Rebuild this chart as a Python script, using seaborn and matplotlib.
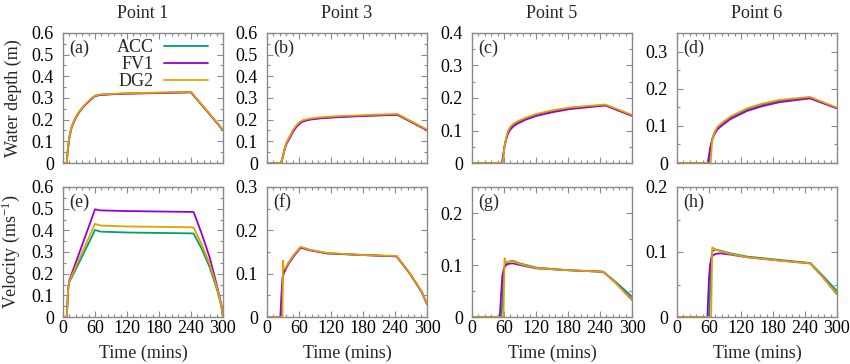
import numpy as np
import pandas as pd
import matplotlib
matplotlib.use('Agg')
import matplotlib.pyplot as plt
import seaborn as sns
from matplotlib.ticker import MultipleLocator, FuncFormatter

# ---- data (time in mins) ----
models = ['ACC', 'FV1', 'DG2']
colors = ['#009e73', '#9400d3', '#e69f00']
points = ['Point 1', 'Point 3', 'Point 5', 'Point 6']

# water depth, point 1
t_a = [0, 7, 9, 12, 16, 20, 25, 30, 38, 45, 52, 60, 70, 90, 120, 180, 240, 270, 300]
acc_a = [0, 0, 0.06, 0.12, 0.165, 0.19, 0.215, 0.235, 0.26, 0.278, 0.294, 0.31, 0.315, 0.318, 0.321, 0.324, 0.327, 0.24, 0.152]
fv1_a = [0, 0, 0.058, 0.118, 0.163, 0.188, 0.213, 0.233, 0.258, 0.276, 0.292, 0.309, 0.314, 0.317, 0.320, 0.323, 0.326, 0.239, 0.152]
dg2_a = [0, 0, 0.061, 0.121, 0.166, 0.191, 0.216, 0.236, 0.261, 0.279, 0.295, 0.311, 0.316, 0.319, 0.322, 0.325, 0.328, 0.241, 0.153]

# water depth, point 3
t_b = [0, 27, 30, 34, 38, 43, 49, 56, 62, 68, 80, 100, 130, 180, 240, 245, 300]
acc_b = [0, 0, 0.035, 0.075, 0.1, 0.122, 0.15, 0.174, 0.187, 0.195, 0.202, 0.208, 0.213, 0.218, 0.223, 0.223, 0.152]
fv1_b = [0, 0, 0.032, 0.07, 0.095, 0.117, 0.145, 0.169, 0.183, 0.192, 0.2, 0.206, 0.211, 0.217, 0.222, 0.222, 0.151]
dg2_b = [0, 0, 0.03, 0.075, 0.102, 0.125, 0.153, 0.177, 0.19, 0.198, 0.205, 0.211, 0.216, 0.221, 0.226, 0.226, 0.154]

# water depth, point 5
t_c = [0, 56, 57, 59, 61, 64, 67, 71, 77, 84, 100, 121, 150, 184, 220, 250, 300]
acc_c = [0, 0, 0, 0.025, 0.05, 0.075, 0.092, 0.106, 0.116, 0.123, 0.136, 0.148, 0.159, 0.169, 0.174, 0.178, 0.146]
fv1_c = [0, 0, 0.01, 0.03, 0.052, 0.073, 0.088, 0.101, 0.112, 0.12, 0.133, 0.145, 0.156, 0.166, 0.172, 0.177, 0.145]
dg2_c = [0, 0, 0, 0.02, 0.05, 0.078, 0.096, 0.11, 0.12, 0.127, 0.139, 0.151, 0.162, 0.171, 0.176, 0.18, 0.148]

# water depth, point 6
t_d = [0, 58, 59, 61, 63, 66, 70, 75, 80, 87, 100, 131, 160, 193, 249, 300]
acc_d = [0, 0, 0, 0.02, 0.042, 0.065, 0.08, 0.093, 0.1, 0.108, 0.122, 0.144, 0.157, 0.167, 0.176, 0.148]
fv1_d = [0, 0, 0.012, 0.03, 0.045, 0.063, 0.077, 0.089, 0.096, 0.104, 0.118, 0.14, 0.153, 0.164, 0.174, 0.147]
dg2_d = [0, 0, 0, 0, 0, 0.06, 0.082, 0.096, 0.103, 0.111, 0.125, 0.147, 0.16, 0.17, 0.178, 0.149]

# velocity, point 1
t_e = [0, 7, 10, 12, 20, 30, 40, 50, 60, 70, 120, 180, 240, 245, 260, 275, 285, 292, 297, 300]
acc_e = [0, 0, 0.14, 0.162, 0.2, 0.25, 0.3, 0.35, 0.402, 0.394, 0.39, 0.388, 0.386, 0.385, 0.315, 0.23, 0.155, 0.1, 0.048, 0.0]
fv1_e = [0, 0, 0.14, 0.17, 0.225, 0.292, 0.36, 0.428, 0.497, 0.492, 0.489, 0.487, 0.485, 0.484, 0.385, 0.275, 0.18, 0.11, 0.055, 0.0]
dg2_e = [0, 0, 0.14, 0.165, 0.21, 0.265, 0.32, 0.375, 0.43, 0.422, 0.418, 0.416, 0.414, 0.413, 0.335, 0.245, 0.165, 0.105, 0.05, 0.0]

# velocity, point 3
t_f = [0, 25, 27, 29, 30, 31, 34, 40, 50, 63, 80, 112, 180, 243, 268, 290, 300]
acc_f = [0, 0, 0.0, 0.07, 0.09, 0.1, 0.11, 0.124, 0.142, 0.161, 0.155, 0.147, 0.143, 0.14, 0.1, 0.058, 0.03]
fv1_f = [0, 0, 0.05, 0.09, 0.097, 0.1, 0.108, 0.122, 0.14, 0.16, 0.154, 0.147, 0.143, 0.14, 0.1, 0.058, 0.03]
dg2_f = [0, 0, 0, 0, 0.13, 0.11, 0.112, 0.125, 0.143, 0.162, 0.155, 0.148, 0.143, 0.141, 0.101, 0.059, 0.031]

# velocity, point 5
t_g = [0, 52, 55, 57, 59, 60, 61, 64, 68, 74, 77, 90, 121, 180, 246, 270, 300]
acc_g = [0, 0, 0, 0.03, 0.08, 0.09, 0.095, 0.102, 0.106, 0.108, 0.108, 0.103, 0.095, 0.09, 0.087, 0.067, 0.039]
fv1_g = [0, 0, 0.05, 0.08, 0.09, 0.093, 0.096, 0.1, 0.102, 0.103, 0.103, 0.1, 0.0935, 0.09, 0.087, 0.065, 0.033]
dg2_g = [0, 0, 0, 0, 0, 0.06, 0.113, 0.105, 0.106, 0.107, 0.107, 0.102, 0.094, 0.09, 0.087, 0.065, 0.032]

# velocity, point 6
t_h = [0, 57, 60, 62, 64, 65, 66, 68, 72, 81, 100, 131, 190, 250, 275, 300]
acc_h = [0, 0, 0, 0.04, 0.085, 0.095, 0.1, 0.102, 0.104, 0.102, 0.098, 0.093, 0.088, 0.083, 0.062, 0.04]
fv1_h = [0, 0, 0.06, 0.08, 0.088, 0.091, 0.093, 0.095, 0.097, 0.098, 0.096, 0.092, 0.087, 0.0825, 0.06, 0.035]
dg2_h = [0, 0, 0, 0, 0, 0.05, 0.107, 0.106, 0.104, 0.101, 0.097, 0.092, 0.087, 0.0825, 0.06, 0.035]

panel_tags = ['(a)', '(b)', '(c)', '(d)', '(e)', '(f)', '(g)', '(h)']
ymax = [0.6, 0.6, 0.4, 0.35, 0.6, 0.3, 0.25, 0.2]
xticks = [0, 60, 120, 180, 240, 300]

panels = [
    (t_a, [acc_a, fv1_a, dg2_a]),
    (t_b, [acc_b, fv1_b, dg2_b]),
    (t_c, [acc_c, fv1_c, dg2_c]),
    (t_d, [acc_d, fv1_d, dg2_d]),
    (t_e, [acc_e, fv1_e, dg2_e]),
    (t_f, [acc_f, fv1_f, dg2_f]),
    (t_g, [acc_g, fv1_g, dg2_g]),
    (t_h, [acc_h, fv1_h, dg2_h]),
]

sns.set_style('ticks')
plt.rcParams['font.family'] = ['Liberation Serif', 'DejaVu Serif']
plt.rcParams['mathtext.fontset'] = 'custom'
plt.rcParams['mathtext.rm'] = 'Liberation Serif'
plt.rcParams['mathtext.it'] = 'Liberation Serif:italic'

fig = plt.figure(figsize=(8.5, 3.64), dpi=100)

W, H = 850, 364
lefts = [63, 267, 472, 677]
tops = [33, 187]
pw, ph = 160, 130
frame = '#8a8a8a'
fs = 13


def yfmt(v, pos):
    return '0' if abs(v) < 1e-9 else '%.1f' % v


for i, (t, series) in enumerate(panels):
    row, col = divmod(i, 4)
    ax = fig.add_axes([lefts[col] / W, 1 - (tops[row] + ph) / H, pw / W, ph / H])
    for name, vals, c in zip(models, series, colors):
        sns.lineplot(x=t, y=vals, color=c, lw=1.3, ax=ax, estimator=None,
                     label=name if i == 0 else None, legend=False)
    ax.set_xlim(0, 300)
    ax.set_ylim(0, ymax[i])
    ax.set_xticks(xticks)
    ax.xaxis.set_minor_locator(MultipleLocator(12))
    ax.yaxis.set_major_locator(MultipleLocator(0.1))
    ax.yaxis.set_minor_locator(MultipleLocator(0.05))
    ax.yaxis.set_major_formatter(FuncFormatter(yfmt))
    ax.tick_params(which='both', direction='in', top=True, right=True,
                   color=frame, labelsize=fs, labelcolor='black')
    ax.tick_params(axis='x', pad=2)
    ax.tick_params(axis='y', pad=6.5)
    ax.tick_params(which='major', length=4, width=0.8)
    ax.tick_params(which='minor', length=2, width=0.8)
    for sp in ax.spines.values():
        sp.set_color(frame)
        sp.set_linewidth(1.0)
        sp.set_visible(True)
    ax.text(0.04, 0.95, panel_tags[i], transform=ax.transAxes, ha='left', va='top',
            fontsize=fs)
    if row == 0:
        ax.set_title(points[col], fontsize=fs, pad=11)
        ax.tick_params(labelbottom=False)
    else:
        ax.set_xlabel('Time (mins)', fontsize=fs)
        ax.xaxis.set_label_coords(0.5, -0.215)
    if i == 0:
        ax.set_ylabel('Water depth (m)', fontsize=fs)
        ax.yaxis.set_label_coords(-0.255, 0.5)
        ax.legend(loc='upper right', bbox_to_anchor=(0.905, 0.955), frameon=False,
                  markerfirst=False, fontsize=fs, handlelength=2.4,
                  handletextpad=0.6, labelspacing=0.0, borderpad=0, borderaxespad=0)
    elif i == 4:
        ax.set_ylabel(r'Velocity (ms$^{-1}$)', fontsize=fs)
        ax.yaxis.set_label_coords(-0.255, 0.5)
    else:
        ax.set_ylabel('')

fig.savefig('out.png', dpi=100)
